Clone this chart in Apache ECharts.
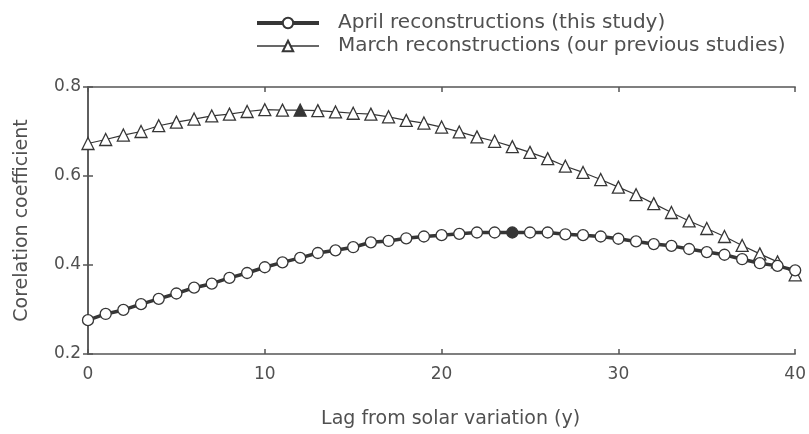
<!DOCTYPE html>
<html>
<head>
<meta charset="utf-8">
<script src="https://cdn.jsdelivr.net/npm/echarts@6/dist/echarts.min.js"></script>
<style>
  html, body { margin: 0; padding: 0; background: #fff; }
  #chart { width: 809px; height: 434px; }
</style>
</head>
<body>
<div id="chart"></div>
<script>
// Lag in years
const lags = [];
for (let i = 0; i <= 40; i++) lags.push(i);

// Correlation of the April reconstruction with solar variation, per lag
const aprilValues = [
  0.276, 0.290, 0.299, 0.312, 0.324, 0.336, 0.349, 0.358, 0.371, 0.382,
  0.395, 0.406, 0.416, 0.427, 0.433, 0.440, 0.451, 0.454, 0.460, 0.464,
  0.467, 0.470, 0.473, 0.473, 0.473, 0.473, 0.473, 0.469, 0.467, 0.464,
  0.459, 0.453, 0.447, 0.443, 0.436, 0.429, 0.423, 0.413, 0.404, 0.398,
  0.388
];

// Correlation of the March reconstruction with solar variation, per lag
const marchValues = [
  0.673, 0.682, 0.692, 0.700, 0.713, 0.721, 0.728, 0.735, 0.739, 0.745,
  0.749, 0.748, 0.748, 0.747, 0.744, 0.741, 0.739, 0.733, 0.725, 0.719,
  0.710, 0.699, 0.688, 0.678, 0.666, 0.653, 0.639, 0.622, 0.608, 0.592,
  0.575, 0.558, 0.538, 0.518, 0.499, 0.482, 0.464, 0.444, 0.425, 0.407,
  0.378
];

// Lag of maximum correlation for each series (drawn as solid markers)
const aprilPeakLag = 24;
const marchPeakLag = 12;

const xTicks = [0, 10, 20, 30, 40];
const yTicks = [0.2, 0.4, 0.6, 0.8];

const aprilName = 'April reconstructions (this study)';
const marchName = 'March reconstructions (our previous studies)';

const ink = '#363636';
const textColor = '#505050';
const fontFamily = '"DejaVu Sans", sans-serif';

function seriesData(values, peakLag) {
  return values.map((v, i) => {
    const item = { value: [lags[i], v] };
    if (lags[i] === peakLag) {
      item.itemStyle = { color: ink, borderColor: ink };
    }
    return item;
  });
}

const chart = echarts.init(document.getElementById('chart'), null, { renderer: 'canvas' });

const axisLineStyle = { show: true, lineStyle: { color: '#555', width: 1.5 } };
const tickStyle = { show: true, inside: true, length: 5, lineStyle: { color: '#555', width: 1.5 } };

chart.setOption({
  animation: false,
  backgroundColor: '#fff',
  textStyle: { fontFamily: fontFamily },
  legend: {
    orient: 'vertical',
    left: 250,
    top: 8,
    itemWidth: 62,
    itemHeight: 13,
    itemGap: 3,
    textStyle: { fontSize: 20, color: textColor, fontFamily: fontFamily, padding: [0, 0, 0, 14] },
    data: [
      { name: aprilName, lineStyle: { width: 4, color: ink } },
      { name: marchName, lineStyle: { width: 1.3, color: ink } }
    ]
  },
  grid: { left: 88, right: 12, top: 87, bottom: 77 },
  xAxis: [
    {
      type: 'value',
      min: xTicks[0],
      max: xTicks[xTicks.length - 1],
      interval: 10,
      name: 'Lag from solar variation (y)',
      nameLocation: 'middle',
      nameGap: 56,
      nameTextStyle: { fontSize: 19, color: textColor, padding: [0, 0, 0, 18] },
      axisLine: axisLineStyle,
      axisTick: tickStyle,
      axisLabel: { fontSize: 17, color: textColor, margin: 12 },
      splitLine: { show: false }
    },
    {
      type: 'value',
      position: 'top',
      min: xTicks[0],
      max: xTicks[xTicks.length - 1],
      interval: 10,
      axisLine: axisLineStyle,
      axisTick: tickStyle,
      axisLabel: { show: false },
      splitLine: { show: false }
    }
  ],
  yAxis: [
    {
      type: 'value',
      min: yTicks[0],
      max: yTicks[yTicks.length - 1],
      interval: 0.2,
      name: 'Corelation coefficient',
      nameLocation: 'middle',
      nameGap: 56,
      nameTextStyle: { fontSize: 19, color: textColor },
      axisLine: axisLineStyle,
      axisTick: tickStyle,
      axisLabel: { fontSize: 17, color: textColor, margin: 7, formatter: v => v.toFixed(1) },
      splitLine: { show: false }
    },
    {
      type: 'value',
      position: 'right',
      min: yTicks[0],
      max: yTicks[yTicks.length - 1],
      interval: 0.2,
      axisLine: axisLineStyle,
      axisTick: tickStyle,
      axisLabel: { show: false },
      splitLine: { show: false }
    }
  ],
  series: [
    {
      name: marchName,
      type: 'line',
      data: seriesData(marchValues, marchPeakLag),
      symbol: 'triangle',
      symbolSize: 12,
      showAllSymbol: true,
      lineStyle: { color: ink, width: 1.2 },
      itemStyle: { color: '#fff', borderColor: ink, borderWidth: 1.3 },
      z: 2
    },
    {
      name: aprilName,
      type: 'line',
      data: seriesData(aprilValues, aprilPeakLag),
      symbol: 'circle',
      symbolSize: 11,
      showAllSymbol: true,
      lineStyle: { color: ink, width: 3.5 },
      itemStyle: { color: '#fff', borderColor: ink, borderWidth: 1.3 },
      z: 3
    }
  ]
});
</script>
</body>
</html>
